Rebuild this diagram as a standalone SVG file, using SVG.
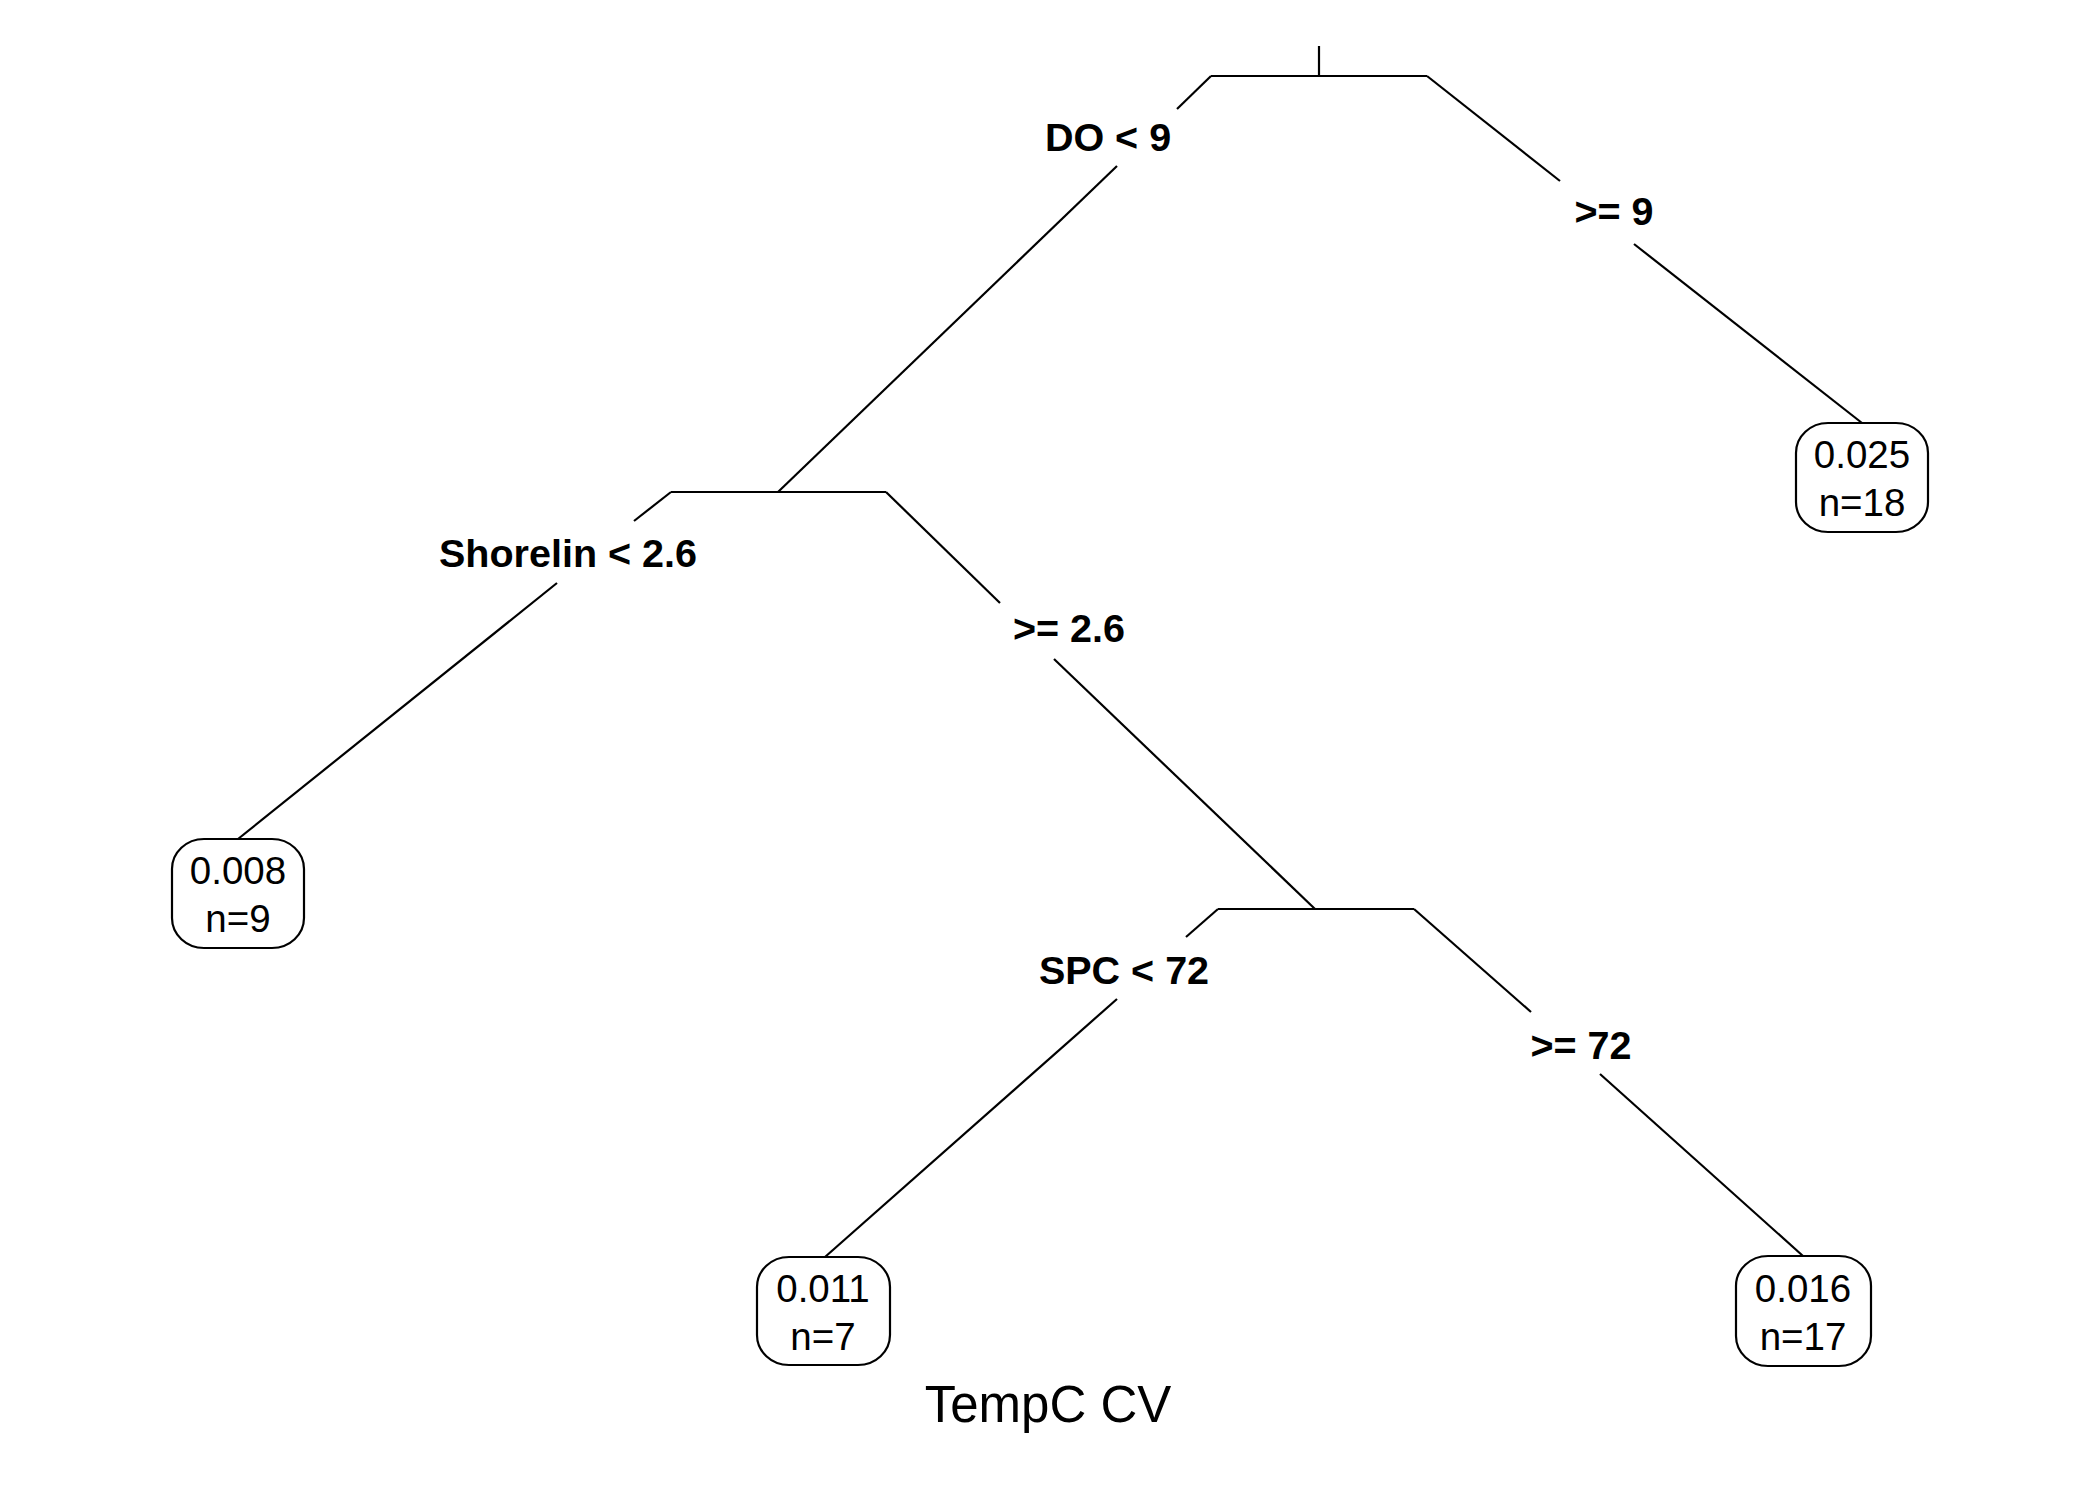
<svg xmlns="http://www.w3.org/2000/svg" width="2100" height="1500" viewBox="0 0 2100 1500">
<style>
.ln{stroke:#000;stroke-width:2.2;fill:none;stroke-linecap:butt}
.box{stroke:#000;stroke-width:2.2;fill:#fff}
.lab{font-family:"Liberation Sans",Arial,sans-serif;font-weight:bold;font-size:39.5px;text-anchor:middle;fill:#000}
.leaf{font-family:"Liberation Sans",Arial,sans-serif;font-size:38.5px;text-anchor:middle;fill:#000}
.title{font-family:"Liberation Sans",Arial,sans-serif;font-size:51px;text-anchor:middle;fill:#000}
</style>
<rect width="2100" height="1500" fill="#fff"/>
<g id="connectors">
<line class="ln" x1="1319" y1="46" x2="1319" y2="76"/>
<line class="ln" x1="1211" y1="76" x2="1427" y2="76"/>
<line class="ln" x1="1211" y1="76" x2="1177" y2="109"/>
<line class="ln" x1="1117" y1="166" x2="778" y2="492"/>
<line class="ln" x1="1427" y1="76" x2="1560" y2="181"/>
<line class="ln" x1="1634" y1="244" x2="1862" y2="423"/>
<line class="ln" x1="671" y1="492" x2="886" y2="492"/>
<line class="ln" x1="671" y1="492" x2="634" y2="521"/>
<line class="ln" x1="557" y1="583" x2="238" y2="839"/>
<line class="ln" x1="886" y1="492" x2="1000" y2="603"/>
<line class="ln" x1="1054" y1="659" x2="1315" y2="909"/>
<line class="ln" x1="1218" y1="909" x2="1414" y2="909"/>
<line class="ln" x1="1218" y1="909" x2="1186" y2="937"/>
<line class="ln" x1="1117" y1="999" x2="825" y2="1257"/>
<line class="ln" x1="1414" y1="909" x2="1531" y2="1012"/>
<line class="ln" x1="1600" y1="1074" x2="1803" y2="1256"/>
</g>
<g id="split-DO">
<text class="lab" x="1108" y="151">DO &lt; 9</text>
<text class="lab" x="1614" y="225">&gt;= 9</text>
</g>
<g id="split-Shorelin">
<text class="lab" x="568" y="567">Shorelin &lt; 2.6</text>
<text class="lab" x="1069" y="642">&gt;= 2.6</text>
</g>
<g id="split-SPC">
<text class="lab" x="1124" y="984">SPC &lt; 72</text>
<text class="lab" x="1581" y="1059">&gt;= 72</text>
</g>
<g id="leaf-0025">
<rect class="box" x="1796" y="423" width="132" height="109" rx="32" ry="30"/>
<text class="leaf" x="1862" y="468">0.025</text>
<text class="leaf" x="1862" y="516">n=18</text>
</g>
<g id="leaf-0008">
<rect class="box" x="172" y="839" width="132" height="109" rx="32" ry="30"/>
<text class="leaf" x="238" y="884">0.008</text>
<text class="leaf" x="238" y="932">n=9</text>
</g>
<g id="leaf-0011">
<rect class="box" x="757" y="1257" width="133" height="108" rx="32" ry="30"/>
<text class="leaf" x="823" y="1302">0.011</text>
<text class="leaf" x="823" y="1350">n=7</text>
</g>
<g id="leaf-0016">
<rect class="box" x="1736" y="1256" width="135" height="110" rx="32" ry="30"/>
<text class="leaf" x="1803" y="1302">0.016</text>
<text class="leaf" x="1803" y="1350">n=17</text>
</g>
<text class="title" x="1048" y="1422">TempC CV</text>
</svg>
